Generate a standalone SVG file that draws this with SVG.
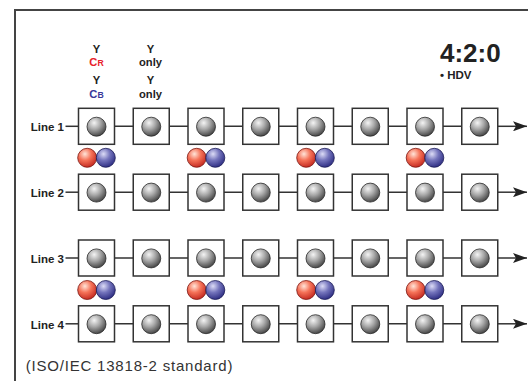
<svg xmlns="http://www.w3.org/2000/svg" width="528" height="381" viewBox="0 0 528 381">
<defs>
<radialGradient id="gGray" cx="0.38" cy="0.3" r="0.75">
<stop offset="0" stop-color="#f4f4f4"/>
<stop offset="0.45" stop-color="#a8a8a8"/>
<stop offset="1" stop-color="#3c3c3c"/>
</radialGradient>
<radialGradient id="gRed" cx="0.38" cy="0.3" r="0.75">
<stop offset="0" stop-color="#ffe4d8"/>
<stop offset="0.45" stop-color="#f57258"/>
<stop offset="1" stop-color="#c0241c"/>
</radialGradient>
<radialGradient id="gBlue" cx="0.38" cy="0.3" r="0.75">
<stop offset="0" stop-color="#dcdcf6"/>
<stop offset="0.45" stop-color="#7474bc"/>
<stop offset="1" stop-color="#28287e"/>
</radialGradient>
<marker id="arr" viewBox="0 0 14 10" refX="14" refY="5" markerWidth="14" markerHeight="10" markerUnits="userSpaceOnUse" orient="auto">
<path d="M0,0 L14,5 L0,10 L3,5 Z" fill="#222"/>
</marker>
</defs>
<style>
.frame{fill:none;stroke:#444;stroke-width:2}
.box{fill:#fff;stroke:#333;stroke-width:1.5}
.wire{stroke:#333;stroke-width:1.5;fill:none}
.y{fill:url(#gGray);stroke:#2a2a2a;stroke-width:0.8}
.cr{fill:url(#gRed);stroke:#7a1510;stroke-width:0.8}
.cb{fill:url(#gBlue);stroke:#1a1a55;stroke-width:0.8}
.lbl{font-family:"Liberation Sans",Arial,sans-serif;font-weight:bold;font-size:11.5px;fill:#222}
.hd{font-family:"Liberation Sans",Arial,sans-serif;font-weight:bold;font-size:11.2px;fill:#222;text-anchor:middle}
.title{font-family:"Liberation Sans",Arial,sans-serif;font-weight:bold;font-size:26px;fill:#222}
.sub{font-family:"Liberation Sans",Arial,sans-serif;font-weight:bold;font-size:11.5px;fill:#222}
.note{font-family:"Liberation Sans",Arial,sans-serif;font-size:15px;fill:#333;letter-spacing:0.8px}
</style>
<path class="frame" d="M15,381 V10 H528"/>

<g id="headers">
<text class="hd" x="96.5" y="52.7">Y</text>
<text class="hd" x="96.5" y="65.7" style="fill:#e8202a">C<tspan font-size="8.7px">R</tspan></text>
<text class="hd" x="96.5" y="84">Y</text>
<text class="hd" x="96.5" y="97.7" style="fill:#38389a">C<tspan font-size="8.7px">B</tspan></text>
<text class="hd" x="150.5" y="52.7">Y</text>
<text class="hd" x="150.5" y="65.7">only</text>
<text class="hd" x="150.5" y="84">Y</text>
<text class="hd" x="150.5" y="97.7">only</text>
</g>
<g id="title">
<text class="title" x="440" y="61.7">4:2:0</text>
<text class="sub" x="440" y="79">• HDV</text>
</g>

<g id="connectors">
<line class="wire" x1="65.5" y1="126.3" x2="78.5" y2="126.3"/>
<line class="wire" x1="65.5" y1="192.2" x2="78.5" y2="192.2"/>
<line class="wire" x1="65.5" y1="258" x2="78.5" y2="258"/>
<line class="wire" x1="65.5" y1="323.8" x2="78.5" y2="323.8"/>
<path class="wire" d="M114.5,126.3H133.25M169.25,126.3H188M224,126.3H242.75M278.75,126.3H297.5M333.5,126.3H352.25M388.25,126.3H407M443,126.3H461.75"/>
<path class="wire" d="M114.5,192.2H133.25M169.25,192.2H188M224,192.2H242.75M278.75,192.2H297.5M333.5,192.2H352.25M388.25,192.2H407M443,192.2H461.75"/>
<path class="wire" d="M114.5,258H133.25M169.25,258H188M224,258H242.75M278.75,258H297.5M333.5,258H352.25M388.25,258H407M443,258H461.75"/>
<path class="wire" d="M114.5,323.8H133.25M169.25,323.8H188M224,323.8H242.75M278.75,323.8H297.5M333.5,323.8H352.25M388.25,323.8H407M443,323.8H461.75"/>
<line class="wire" x1="497.75" y1="126.3" x2="527" y2="126.3" marker-end="url(#arr)"/>
<line class="wire" x1="497.75" y1="192.2" x2="527" y2="192.2" marker-end="url(#arr)"/>
<line class="wire" x1="497.75" y1="258" x2="527" y2="258" marker-end="url(#arr)"/>
<line class="wire" x1="497.75" y1="323.8" x2="527" y2="323.8" marker-end="url(#arr)"/>
</g>

<g id="line1">
<text class="lbl" x="64" y="131" text-anchor="end">Line 1</text>
<g transform="translate(0,126.3)">
<rect class="box" x="78.5" y="-18" width="36" height="36"/><circle class="y" cx="96.5" cy="0.4" r="9.5"/>
<rect class="box" x="133.25" y="-18" width="36" height="36"/><circle class="y" cx="151.25" cy="0.4" r="9.5"/>
<rect class="box" x="188" y="-18" width="36" height="36"/><circle class="y" cx="206" cy="0.4" r="9.5"/>
<rect class="box" x="242.75" y="-18" width="36" height="36"/><circle class="y" cx="260.75" cy="0.4" r="9.5"/>
<rect class="box" x="297.5" y="-18" width="36" height="36"/><circle class="y" cx="315.5" cy="0.4" r="9.5"/>
<rect class="box" x="352.25" y="-18" width="36" height="36"/><circle class="y" cx="370.25" cy="0.4" r="9.5"/>
<rect class="box" x="407" y="-18" width="36" height="36"/><circle class="y" cx="425" cy="0.4" r="9.5"/>
<rect class="box" x="461.75" y="-18" width="36" height="36"/><circle class="y" cx="479.75" cy="0.4" r="9.5"/>
</g>
</g>

<g id="chroma12">
<g transform="translate(0,157.8)">
<circle class="cr" cx="87.2" cy="0" r="9.5"/><circle class="cb" cx="105.8" cy="0" r="9.5"/>
<circle class="cr" cx="196.7" cy="0" r="9.5"/><circle class="cb" cx="215.3" cy="0" r="9.5"/>
<circle class="cr" cx="306.2" cy="0" r="9.5"/><circle class="cb" cx="324.8" cy="0" r="9.5"/>
<circle class="cr" cx="415.7" cy="0" r="9.5"/><circle class="cb" cx="434.3" cy="0" r="9.5"/>
</g>
</g>

<g id="line2">
<text class="lbl" x="64" y="196.9" text-anchor="end">Line 2</text>
<g transform="translate(0,192.2)">
<rect class="box" x="78.5" y="-18" width="36" height="36"/><circle class="y" cx="96.5" cy="0.4" r="9.5"/>
<rect class="box" x="133.25" y="-18" width="36" height="36"/><circle class="y" cx="151.25" cy="0.4" r="9.5"/>
<rect class="box" x="188" y="-18" width="36" height="36"/><circle class="y" cx="206" cy="0.4" r="9.5"/>
<rect class="box" x="242.75" y="-18" width="36" height="36"/><circle class="y" cx="260.75" cy="0.4" r="9.5"/>
<rect class="box" x="297.5" y="-18" width="36" height="36"/><circle class="y" cx="315.5" cy="0.4" r="9.5"/>
<rect class="box" x="352.25" y="-18" width="36" height="36"/><circle class="y" cx="370.25" cy="0.4" r="9.5"/>
<rect class="box" x="407" y="-18" width="36" height="36"/><circle class="y" cx="425" cy="0.4" r="9.5"/>
<rect class="box" x="461.75" y="-18" width="36" height="36"/><circle class="y" cx="479.75" cy="0.4" r="9.5"/>
</g>
</g>

<g id="line3">
<text class="lbl" x="64" y="262.7" text-anchor="end">Line 3</text>
<g transform="translate(0,258)">
<rect class="box" x="78.5" y="-18" width="36" height="36"/><circle class="y" cx="96.5" cy="0.4" r="9.5"/>
<rect class="box" x="133.25" y="-18" width="36" height="36"/><circle class="y" cx="151.25" cy="0.4" r="9.5"/>
<rect class="box" x="188" y="-18" width="36" height="36"/><circle class="y" cx="206" cy="0.4" r="9.5"/>
<rect class="box" x="242.75" y="-18" width="36" height="36"/><circle class="y" cx="260.75" cy="0.4" r="9.5"/>
<rect class="box" x="297.5" y="-18" width="36" height="36"/><circle class="y" cx="315.5" cy="0.4" r="9.5"/>
<rect class="box" x="352.25" y="-18" width="36" height="36"/><circle class="y" cx="370.25" cy="0.4" r="9.5"/>
<rect class="box" x="407" y="-18" width="36" height="36"/><circle class="y" cx="425" cy="0.4" r="9.5"/>
<rect class="box" x="461.75" y="-18" width="36" height="36"/><circle class="y" cx="479.75" cy="0.4" r="9.5"/>
</g>
</g>

<g id="chroma34">
<g transform="translate(0,290)">
<circle class="cr" cx="87.2" cy="0" r="9.5"/><circle class="cb" cx="105.8" cy="0" r="9.5"/>
<circle class="cr" cx="196.7" cy="0" r="9.5"/><circle class="cb" cx="215.3" cy="0" r="9.5"/>
<circle class="cr" cx="306.2" cy="0" r="9.5"/><circle class="cb" cx="324.8" cy="0" r="9.5"/>
<circle class="cr" cx="415.7" cy="0" r="9.5"/><circle class="cb" cx="434.3" cy="0" r="9.5"/>
</g>
</g>

<g id="line4">
<text class="lbl" x="64" y="328.5" text-anchor="end">Line 4</text>
<g transform="translate(0,323.8)">
<rect class="box" x="78.5" y="-18" width="36" height="36"/><circle class="y" cx="96.5" cy="0.4" r="9.5"/>
<rect class="box" x="133.25" y="-18" width="36" height="36"/><circle class="y" cx="151.25" cy="0.4" r="9.5"/>
<rect class="box" x="188" y="-18" width="36" height="36"/><circle class="y" cx="206" cy="0.4" r="9.5"/>
<rect class="box" x="242.75" y="-18" width="36" height="36"/><circle class="y" cx="260.75" cy="0.4" r="9.5"/>
<rect class="box" x="297.5" y="-18" width="36" height="36"/><circle class="y" cx="315.5" cy="0.4" r="9.5"/>
<rect class="box" x="352.25" y="-18" width="36" height="36"/><circle class="y" cx="370.25" cy="0.4" r="9.5"/>
<rect class="box" x="407" y="-18" width="36" height="36"/><circle class="y" cx="425" cy="0.4" r="9.5"/>
<rect class="box" x="461.75" y="-18" width="36" height="36"/><circle class="y" cx="479.75" cy="0.4" r="9.5"/>
</g>
</g>

<g id="footnote">
<text class="note" x="25.7" y="370.7">(ISO/IEC 13818-2 standard)</text>
</g>
</svg>
